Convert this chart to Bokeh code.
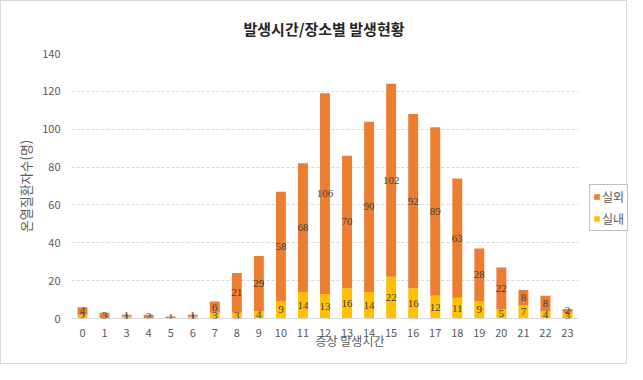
from bokeh.plotting import figure
from bokeh.models import (ColumnDataSource, Range1d, LabelSet, Legend,
                          LegendItem, SingleIntervalTicker, FixedTicker)
from bokeh.embed import file_html
from bokeh.resources import INLINE

hours = ["0", "1", "3", "4", "5", "6", "7", "8", "9", "10", "11", "12", "13",
         "14", "15", "16", "17", "18", "19", "20", "21", "22", "23"]
indoor = [2, 0, 1, 0, 0, 1, 3, 3, 4, 9, 14, 13, 16, 14, 22, 16, 12, 11, 9, 5, 7, 4, 3]
outdoor = [4, 3, 1, 2, 1, 1, 6, 21, 29, 58, 68, 106, 70, 90, 102, 92, 89, 63, 28, 22, 8, 8, 2]
series_names = ["실외", "실내"]
title_text = "발생시간/장소별 발생현황"
x_title = "증상 발생시간"
y_title = "온열질환자수(명)"

FONT = "Noto Sans CJK KR"
C_OUT = "#ED7D31"
C_IN = "#FFC000"
TXT = "#595959"

W, H = 627, 364
LEFT, TOP, BOTTOM = 70, 50, 47
PLOT_W = 507                       # width of the bar area
n = len(hours)
pos = list(range(n))
unit = PLOT_W / n
x_end = n - 0.5 + (W - LEFT - PLOT_W) / unit

src = ColumnDataSource(dict(x=pos, hour=hours, indoor=indoor, outdoor=outdoor))

p = figure(x_range=Range1d(-0.5, x_end), y_range=Range1d(0, 140),
           width=W, height=H, output_backend="svg", toolbar_location=None,
           min_border_left=LEFT, min_border_right=0, min_border_top=TOP,
           min_border_bottom=BOTTOM)
p.styles = {"border": "1px solid #d9d9d9", "box-sizing": "border-box"}

renderers = p.vbar_stack(["indoor", "outdoor"], x="x", width=0.45, source=src,
                         color=[C_IN, C_OUT], line_color=None)

# data labels centered in each segment (skip zeros)
lx, ly, lt = [], [], []
for i, a, b in zip(pos, indoor, outdoor):
    if a:
        lx.append(i); ly.append(a / 2); lt.append(str(a))
    if b:
        lx.append(i); ly.append(a + b / 2); lt.append(str(b))
lab_src = ColumnDataSource(dict(x=lx, y=ly, t=lt))
p.add_layout(LabelSet(x="x", y="y", text="t", source=lab_src, text_align="center",
                      text_baseline="middle", text_font=FONT, text_font_size="11px",
                      text_color="#404040"))

# title (left aligned with an offset so it is centred over the bar area)
p.title.text = title_text
p.title.align = "left"
p.title.offset = 172
p.title.text_font = FONT
p.title.text_font_size = "15px"
p.title.text_font_style = "bold"
p.title.text_color = "#262626"
p.title.standoff = 29

# axes
p.yaxis.ticker = SingleIntervalTicker(interval=20)
p.xaxis.ticker = FixedTicker(ticks=pos)
p.xaxis.major_label_overrides = {i: h for i, h in zip(pos, hours)}
p.xaxis.bounds = (-0.5, n - 0.5)
for ax in (p.xaxis[0], p.yaxis[0]):
    ax.major_tick_line_color = None
    ax.minor_tick_line_color = None
    ax.major_tick_out = 0
    ax.minor_tick_out = 0
    ax.major_label_text_font = FONT
    ax.major_label_text_font_size = "11px"
    ax.major_label_text_color = TXT
    ax.axis_label_text_font = FONT
    ax.axis_label_text_font_size = "12px"
    ax.axis_label_text_color = TXT
    ax.axis_label_text_font_style = "normal"
p.yaxis.axis_label_text_font_size = "13px"
p.yaxis.axis_line_color = None
p.xaxis.axis_line_color = "#d9d9d9"
p.yaxis.major_label_standoff = 11
p.xaxis.major_label_standoff = 10
p.xaxis.axis_label = x_title
p.yaxis.axis_label = y_title
p.xaxis.axis_label_standoff = -8
p.yaxis.axis_label_standoff = 4

p.xgrid.grid_line_color = None
p.ygrid.grid_line_color = "#d9d9d9"
p.ygrid.grid_line_dash = "3 2"
try:
    p.ygrid.cross_bounds = (-0.5, n - 0.5)
except Exception:
    pass
p.outline_line_color = None

legend = Legend(items=[LegendItem(label=series_names[0], renderers=[renderers[1]]),
                       LegendItem(label=series_names[1], renderers=[renderers[0]])],
                location=(PLOT_W + 11, 87), orientation="vertical",
                glyph_width=7, glyph_height=7, label_height=16, label_standoff=2,
                spacing=5, padding=3, margin=0,
                label_text_font=FONT, label_text_font_size="12px",
                label_text_color=TXT, border_line_color="#bfbfbf",
                border_line_width=1, border_line_alpha=1.0,
                background_fill_color="white")
p.add_layout(legend, "center")

open("out.html", "w").write(file_html(p, INLINE))
